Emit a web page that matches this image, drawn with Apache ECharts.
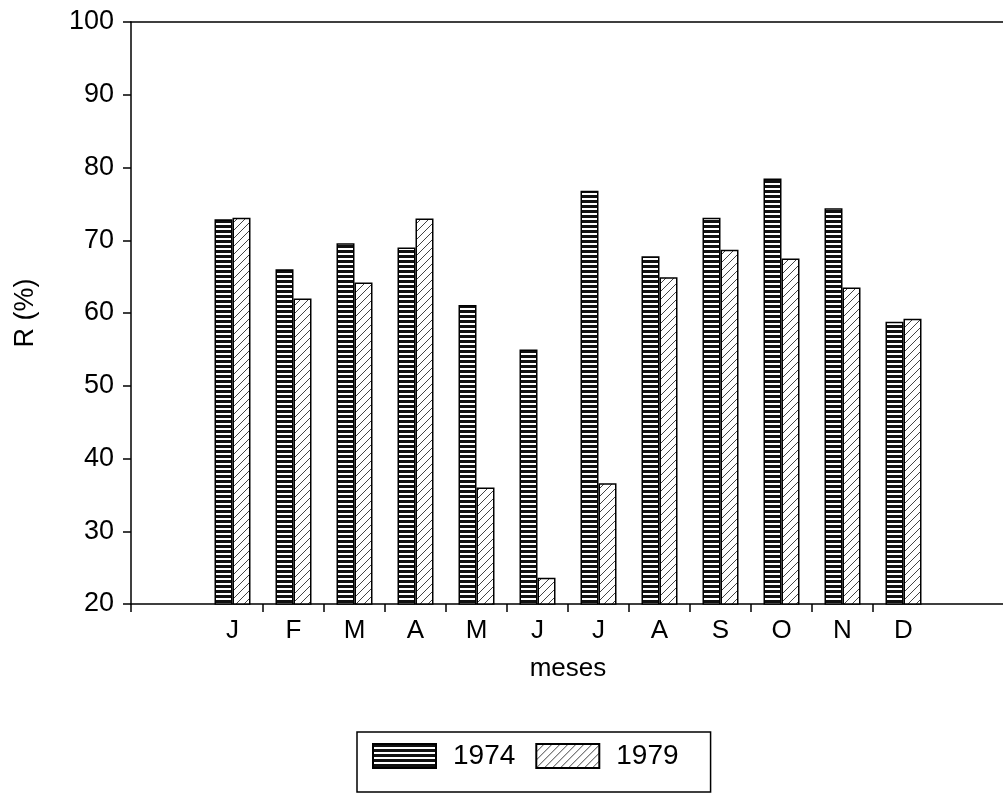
<!DOCTYPE html>
<html>
<head>
<meta charset="utf-8">
<script src="https://cdn.jsdelivr.net/npm/echarts@6/dist/echarts.min.js"></script>
<style>
html,body{margin:0;padding:0;background:#fff;}
#chart{width:1003px;height:793px;}
</style>
</head>
<body>
<div id="chart"></div>
<script>
// ---- data ----
const months = ['J','F','M','A','M','J','J','A','S','O','N','D'];
const values1974 = [72.9, 66.0, 69.6, 69.0, 61.1, 55.0, 76.8, 67.8, 73.1, 78.5, 74.4, 58.8];
const values1979 = [73.1, 62.0, 64.2, 73.0, 36.0, 23.6, 36.6, 64.9, 68.7, 67.5, 63.5, 59.2];
const seriesNames = ['1974', '1979'];
const yTicks = {min: 20, max: 100, interval: 10};
const bandBoundaryTicks = [1,2,3,4,5,6,7,8,9,10,11];

const FONT = '"Liberation Sans", Arial, Helvetica, sans-serif';

function stripePattern(){
  const c = document.createElement('canvas');
  c.width = 8; c.height = 5;
  const g = c.getContext('2d');
  g.fillStyle = '#ffffff'; g.fillRect(0,0,8,5);
  g.fillStyle = '#111111'; g.fillRect(0,0,8,3);
  return c;
}
function hatchPattern(){
  const s = 8;
  const c = document.createElement('canvas');
  c.width = s; c.height = s;
  const g = c.getContext('2d');
  g.fillStyle = '#ffffff'; g.fillRect(0,0,s,s);
  g.strokeStyle = '#444444'; g.lineWidth = 1;
  g.beginPath();
  g.moveTo(0,s); g.lineTo(s,0);
  g.moveTo(-2,2); g.lineTo(2,-2);
  g.moveTo(s-2,s+2); g.lineTo(s+2,s-2);
  g.stroke();
  return c;
}

const chart = echarts.init(document.getElementById('chart'), null, {renderer:'canvas'});
const axisBlack = {color:'#000', width:1.5};

chart.setOption({
  animation:false,
  backgroundColor:'#fff',
  textStyle:{fontFamily:FONT},
  grid:[
    {left:131, right:0, top:22, bottom:189, outerBoundsMode:'none', containLabel:false},
    {left:202, right:69, top:22, bottom:189, outerBoundsMode:'none', containLabel:false}
  ],
  legend:{
    data:seriesNames,
    left:357, top:732,
    orient:'horizontal',
    itemWidth:63, itemHeight:24,
    itemGap:20,
    padding:[10,32,22,15],
    borderColor:'#000', borderWidth:1.5,
    icon:'rect',
    textStyle:{fontSize:28, color:'#000', fontFamily:FONT, padding:[0,0,0,12]}
  },
  xAxis:[
    { // bottom frame line of full plot
      type:'value', gridIndex:0, min:0, max:1, position:'bottom',
      axisLine:{show:true, lineStyle:axisBlack},
      axisTick:{show:true, length:8, lineStyle:axisBlack, customValues:[0]},
      axisLabel:{show:false}, splitLine:{show:false}
    },
    { // top frame line
      type:'value', gridIndex:0, min:0, max:1, position:'top',
      axisLine:{show:true, lineStyle:axisBlack},
      axisTick:{show:false}, axisLabel:{show:false}, splitLine:{show:false}
    },
    { // month category axis
      type:'category', gridIndex:1, data:months, position:'bottom',
      axisLine:{show:false}, axisTick:{show:false},
      axisLabel:{fontSize:26, color:'#000', margin:14, fontFamily:FONT, interval:0},
      name:'meses', nameLocation:'middle', nameGap:52,
      nameTextStyle:{fontSize:26, color:'#000', fontFamily:FONT}
    },
    { // boundary ticks between months
      type:'value', gridIndex:1, min:0, max:12, position:'bottom',
      axisLine:{show:false},
      axisTick:{show:true, length:8, lineStyle:axisBlack, customValues:bandBoundaryTicks},
      axisLabel:{show:false}, splitLine:{show:false}
    }
  ],
  yAxis:[
    {
      type:'value', gridIndex:0, min:yTicks.min, max:yTicks.max, interval:yTicks.interval,
      axisLine:{show:true, lineStyle:axisBlack},
      axisTick:{show:true, length:8, lineStyle:axisBlack},
      axisLabel:{fontSize:27, color:'#000', margin:17, fontFamily:FONT},
      splitLine:{show:false},
      name:'R (%)', nameLocation:'middle', nameRotate:90, nameGap:92,
      nameTextStyle:{fontSize:27, color:'#000', fontFamily:FONT}
    },
    {
      type:'value', gridIndex:1, min:yTicks.min, max:yTicks.max, interval:yTicks.interval,
      show:false
    }
  ],
  series:[
    {
      name:seriesNames[0], type:'bar', xAxisIndex:2, yAxisIndex:1,
      data:values1974, barWidth:18, barGap:'0%',
      itemStyle:{color:{image:stripePattern(), repeat:'repeat'}, borderColor:'#000', borderWidth:1.5}
    },
    {
      name:seriesNames[1], type:'bar', xAxisIndex:2, yAxisIndex:1,
      data:values1979, barWidth:18, barGap:'0%',
      itemStyle:{color:{image:hatchPattern(), repeat:'repeat'}, borderColor:'#000', borderWidth:1.5}
    }
  ]
});
</script>
</body>
</html>
